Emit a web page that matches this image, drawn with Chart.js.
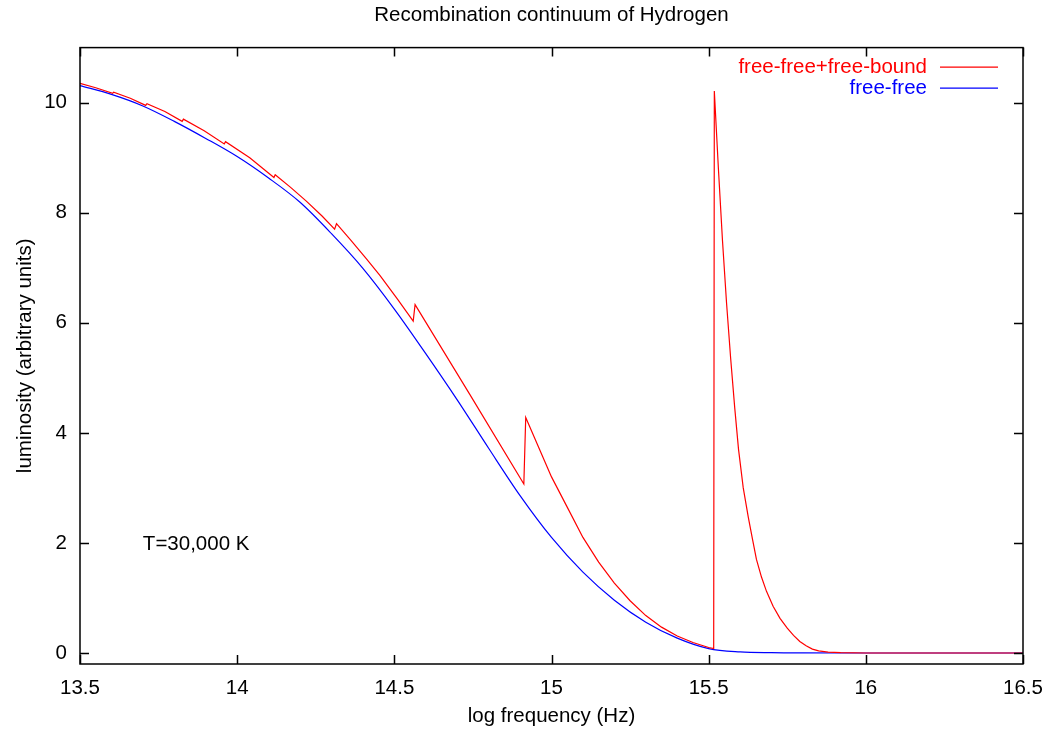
<!DOCTYPE html>
<html>
<head>
<meta charset="utf-8">
<title>Recombination continuum of Hydrogen</title>
<script src="https://cdn.jsdelivr.net/npm/chart.js@4.4.0/dist/chart.umd.min.js"></script>
<style>
  html, body { margin: 0; padding: 0; background: #fff; }
  #wrap { width: 1047px; height: 729px; }
</style>
</head>
<body>
<div id="wrap"><canvas id="chart" width="1047" height="729"></canvas></div>
<script>
// tick positions
const xTicks = [13.5, 14, 14.5, 15, 15.5, 16, 16.5];
const yTicks = [0, 2, 4, 6, 8, 10];

// free-free (blue)
const ffX = [13.5, 13.6, 13.7, 13.8, 13.9, 14.0, 14.1, 14.2, 14.3, 14.4, 14.5, 14.6, 14.7, 14.8, 14.9,
             15.0, 15.1, 15.2, 15.3, 15.4, 15.5, 15.6, 15.7, 15.8, 16.0, 16.5];
const ffY = [10.31, 10.15, 9.94, 9.66, 9.35, 9.02, 8.63, 8.19, 7.62, 6.99, 6.25, 5.44, 4.60, 3.72, 2.86,
             2.10, 1.47, 0.96, 0.56, 0.27, 0.08, 0.02, 0.005, 0.001, 0, 0];

// free-free + free-bound (red), with the recombination edges
const fbX = [13.5, 13.55, 13.604, 13.607, 13.66, 13.709, 13.713, 13.77, 13.825, 13.829, 13.895, 13.959, 13.963,
             14.04, 14.117, 14.121, 14.17, 14.22, 14.27, 14.31, 14.316, 14.36, 14.41, 14.454, 14.51, 14.56,
             14.566, 14.74, 14.912, 14.918, 15.0, 15.05, 15.1, 15.15, 15.2, 15.25, 15.3, 15.35, 15.4, 15.45,
             15.5, 15.516, 15.518, 15.531, 15.544, 15.557, 15.57, 15.583, 15.595, 15.61, 15.626, 15.64,
             15.652, 15.668, 15.684, 15.705, 15.727, 15.75, 15.77, 15.79, 15.81, 15.83, 15.85, 15.88,
             15.92, 16.0, 16.5];
const fbY = [10.35, 10.27, 10.17, 10.19, 10.08, 9.95, 9.98, 9.84, 9.66, 9.70, 9.49, 9.25, 9.29,
             9.00, 8.64, 8.69, 8.46, 8.21, 7.94, 7.70, 7.80, 7.51, 7.17, 6.86, 6.43, 6.03,
             6.33, 4.70, 3.07, 4.28, 3.20, 2.65, 2.10, 1.65, 1.27, 0.95, 0.68, 0.47, 0.31, 0.19,
             0.10, 0.08, 10.21, 8.80, 7.49, 6.35, 5.35, 4.45, 3.70, 3.00, 2.47, 2.05,
             1.70, 1.38, 1.12, 0.85, 0.63, 0.45, 0.32, 0.21, 0.13, 0.07, 0.04, 0.015,
             0.005, 0, 0];

const seriesNames = ['free-free+free-bound', 'free-free'];
const seriesColors = ['#ff0000', '#0000ff'];
const note = 'T=30,000 K';
const noteAt = [13.7, 2];

const FONT = 'Liberation Sans, Arial, Helvetica, sans-serif';
const FS = 20.5;

function toPoints(xs, ys) {
    return xs.map((x, i) => ({ x: x, y: ys[i] }));
}

// gnuplot-like frame, inward ticks, legend and label
const framePlugin = {
    id: 'frame',
    afterDraw(chart) {
        const ctx = chart.ctx;
        const a = chart.chartArea;
        const xs = chart.scales.x;
        const ys = chart.scales.y;
        const tl = 9;
        ctx.save();
        ctx.strokeStyle = '#000';
        ctx.lineWidth = 1.5;
        ctx.strokeRect(a.left, a.top, a.right - a.left, a.bottom - a.top);
        ctx.beginPath();
        xTicks.forEach(v => {
            const px = Math.round(xs.getPixelForValue(v)) + 0.5;
            ctx.moveTo(px, a.bottom); ctx.lineTo(px, a.bottom - tl);
            ctx.moveTo(px, a.top); ctx.lineTo(px, a.top + tl);
        });
        yTicks.forEach(v => {
            const py = Math.round(ys.getPixelForValue(v)) + 0.5;
            ctx.moveTo(a.left, py); ctx.lineTo(a.left + tl, py);
            ctx.moveTo(a.right, py); ctx.lineTo(a.right - tl, py);
        });
        ctx.stroke();

        // legend: text right aligned, sample line after it
        ctx.font = FS + 'px ' + FONT;
        ctx.textBaseline = 'middle';
        ctx.textAlign = 'right';
        seriesNames.forEach((name, i) => {
            const y = a.top + 19 + i * 21;
            ctx.fillStyle = seriesColors[i];
            ctx.fillText(name, a.right - 96, y + 1);
            ctx.strokeStyle = seriesColors[i];
            ctx.lineWidth = 1.2;
            ctx.beginPath();
            ctx.moveTo(a.right - 83, y + 0.5);
            ctx.lineTo(a.right - 25, y + 0.5);
            ctx.stroke();
        });

        ctx.fillStyle = '#000';
        ctx.textAlign = 'left';
        ctx.fillText(note, xs.getPixelForValue(noteAt[0]), ys.getPixelForValue(noteAt[1]) + 1);
        ctx.restore();
    }
};

const ctx = document.getElementById('chart').getContext('2d');
new Chart(ctx, {
    type: 'line',
    data: {
        datasets: [{
            label: seriesNames[0],
            data: toPoints(fbX, fbY),
            borderColor: seriesColors[0],
            borderWidth: 1.2,
            pointRadius: 0,
            fill: false,
            tension: 0
        }, {
            label: seriesNames[1],
            data: toPoints(ffX, ffY),
            borderColor: seriesColors[1],
            borderWidth: 1.2,
            pointRadius: 0,
            fill: false,
            cubicInterpolationMode: 'monotone'
        }]
    },
    options: {
        responsive: false,
        animation: false,
        layout: { padding: { left: 0, right: 24, top: 0, bottom: 0 } },
        plugins: {
            legend: { display: false },
            tooltip: { enabled: false },
            title: {
                display: true,
                fullSize: false,
                text: 'Recombination continuum of Hydrogen',
                color: '#000',
                font: { family: FONT, size: FS, weight: 'normal' },
                padding: { top: 3, bottom: 20 }
            }
        },
        scales: {
            x: {
                type: 'linear',
                min: 13.5,
                max: 16.5,
                grid: { display: false, drawTicks: false },
                border: { display: false },
                afterBuildTicks: s => { s.ticks = xTicks.map(v => ({ value: v })); },
                afterFit: s => { s.height = 65; s.paddingLeft = 0; s.paddingRight = 0; },
                ticks: {
                    color: '#000',
                    padding: 12,
                    maxRotation: 0,
                    font: { family: FONT, size: FS },
                    callback: v => String(v)
                },
                title: {
                    display: true,
                    text: 'log frequency (Hz)',
                    color: '#000',
                    font: { family: FONT, size: FS },
                    padding: { top: 0, bottom: 0 }
                }
            },
            y: {
                min: -0.2,
                max: 11,
                grid: { display: false, drawTicks: false },
                border: { display: false },
                afterBuildTicks: s => { s.ticks = yTicks.map(v => ({ value: v })); },
                afterFit: s => { s.width = 80; s.paddingTop = 0; s.paddingBottom = 0; },
                ticks: {
                    color: '#000',
                    padding: 13,
                    font: { family: FONT, size: FS },
                    callback: v => String(v)
                },
                title: {
                    display: true,
                    text: 'luminosity (arbitrary units)',
                    color: '#000',
                    font: { family: FONT, size: FS },
                    padding: { top: 13, bottom: 0 }
                }
            }
        }
    },
    plugins: [framePlugin]
});
</script>
</body>
</html>
